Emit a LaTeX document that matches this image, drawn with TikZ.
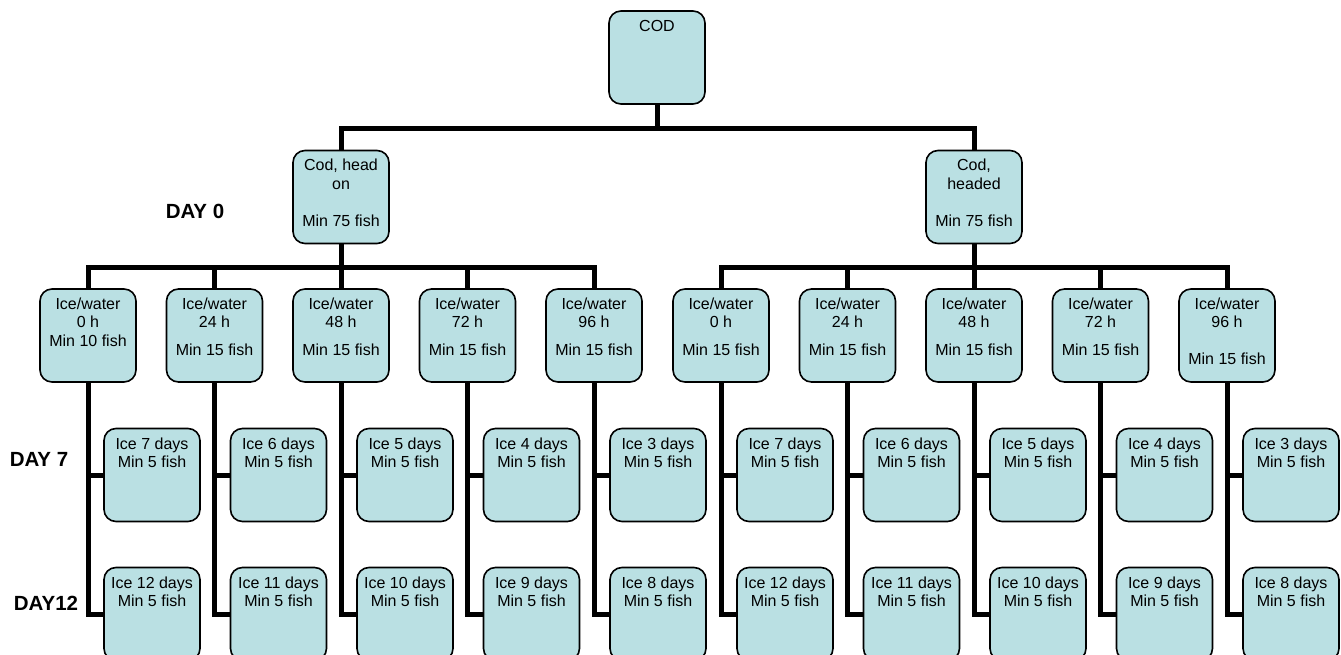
\documentclass[tikz,border=0pt]{standalone}
\usepackage{fontspec}
\setmainfont{Liberation Sans}
\definecolor{boxfill}{HTML}{BAE0E3}
\tikzset{
  conn/.style={line width=5pt, line join=miter},
  fishbox/.style={draw, line width=1.6pt, fill=boxfill, rounded corners=12pt, inner sep=0pt, minimum width=96pt, minimum height=93pt},
  daylab/.style={font=\fontsize{20.5}{24}\selectfont\bfseries, inner sep=0pt}
}
\newcommand{\bt}[1]{\parbox[c][93pt][t]{96pt}{\centering\fontsize{16}{18.4}\selectfont\rule{0pt}{20.5pt}#1\par}}
\begin{document}
\begin{tikzpicture}[x=1pt,y=-1pt]
\useasboundingbox (0,0) rectangle (1341,655);
% top
\node[fishbox] (cod) at (657,57.5) {\bt{COD}};
\node[fishbox] (hon) at (341,197) {\bt{Cod, head\\on\\[18.4pt]Min 75 fish}};
\node[fishbox] (hdd) at (974,197) {\bt{Cod,\\headed\\[18.4pt]Min 75 fish}};
% level 2 left
\node[fishbox] (l0) at (88,335.5) {\bt{Ice/water\\0 h\\Min 10 fish}};
\node[fishbox] (l1) at (214.5,335.5) {\bt{Ice/water\\24 h\\[9.2pt]Min 15 fish}};
\node[fishbox] (l2) at (341,335.5) {\bt{Ice/water\\48 h\\[9.2pt]Min 15 fish}};
\node[fishbox] (l3) at (467.5,335.5) {\bt{Ice/water\\72 h\\[9.2pt]Min 15 fish}};
\node[fishbox] (l4) at (594,335.5) {\bt{Ice/water\\96 h\\[9.2pt]Min 15 fish}};
% level 2 right
\node[fishbox] (r0) at (721,335.5) {\bt{Ice/water\\0 h\\[9.2pt]Min 15 fish}};
\node[fishbox] (r1) at (847.5,335.5) {\bt{Ice/water\\24 h\\[9.2pt]Min 15 fish}};
\node[fishbox] (r2) at (974,335.5) {\bt{Ice/water\\48 h\\[9.2pt]Min 15 fish}};
\node[fishbox] (r3) at (1100.5,335.5) {\bt{Ice/water\\72 h\\[9.2pt]Min 15 fish}};
\node[fishbox] (r4) at (1227,335.5) {\bt{Ice/water\\96 h\\[18.4pt]Min 15 fish}};
% level 3 and 4
\foreach \s in {l,r}{
  \foreach \i/\a/\b in {0/7/12,1/6/11,2/5/10,3/4/9,4/3/8}{
    \node[fishbox, xshift=64pt] (\s a\i) at (\s\i |- 0,475) {\bt{Ice \a\ days\\Min 5 fish}};
    \node[fishbox, xshift=64pt] (\s b\i) at (\s\i |- 0,614) {\bt{Ice \b\ days\\Min 5 fish}};
  }
}
% connectors
\draw[conn] (cod.south) -- ++(0,23.5) -| (hon.north);
\draw[conn] (cod.south) -- ++(0,23.5) -| (hdd.north);
\foreach \i in {0,...,4}{
  \draw[conn] (hon.south) -- ++(0,23) -| (l\i.north);
  \draw[conn] (hdd.south) -- ++(0,23) -| (r\i.north);
  \draw[conn] (l\i.south) |- (la\i.west);
  \draw[conn] (l\i.south) |- (lb\i.west);
  \draw[conn] (r\i.south) |- (ra\i.west);
  \draw[conn] (r\i.south) |- (rb\i.west);
}
% day labels
\node[daylab] (d0) at (195,211) {DAY 0};
\node[daylab] (d7) at (39,459.5) {DAY 7};
\node[daylab] (d12) at (46,603) {DAY12};
\end{tikzpicture}
\end{document}
